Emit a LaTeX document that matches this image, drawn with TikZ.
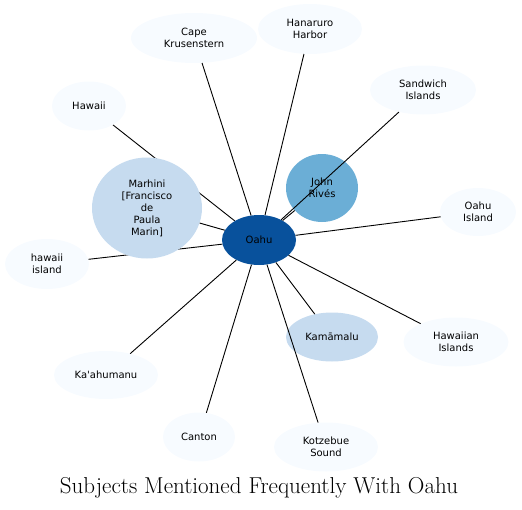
\documentclass[tikz,border=0pt]{standalone}
\usepackage{fontspec}
\newfontfamily\nodefont{DejaVu Sans}
\usetikzlibrary{shapes.geometric}
\pgfdeclarelayer{background}
\pgfsetlayers{background,main}
\definecolor{cdark}{HTML}{08519C}
\definecolor{cmid}{HTML}{6BAED6}
\definecolor{clight}{HTML}{C6DBEF}
\definecolor{cpale}{HTML}{F7FBFF}
\tikzset{
  ent/.style={ellipse, inner sep=0pt, align=center, font=\nodefont\fontsize{10}{12}\selectfont, text=black},
  pale/.style={ent, fill=cpale},
  lite/.style={ent, fill=clight},
  link/.style={draw=black, line width=0.9pt},
}
\begin{document}
\begin{tikzpicture}[x=1pt,y=-1pt]
\useasboundingbox (0,0) rectangle (522,509);
\node[ent, fill=cdark, minimum width=74pt, minimum height=50pt] (oahu) at (259,240) {Oahu};
\node[ent, fill=cmid, minimum width=72pt, minimum height=68pt] (john) at (322,188) {John\\Rivés};
\node[pale, minimum width=126pt, minimum height=50pt] (cape) at (194,38) {Cape\\Krusenstern};
\node[pale, minimum width=104pt, minimum height=50pt] (hana) at (310,29) {Hanaruro\\Harbor};
\node[pale, minimum width=106pt, minimum height=49pt] (sand) at (423,90) {Sandwich\\Islands};
\node[pale, minimum width=74pt, minimum height=49pt] (hawaii) at (89,106) {Hawaii};
\node[pale, minimum width=84pt, minimum height=50pt] (hisl) at (47,264) {hawaii\\island};
\node[pale, minimum width=76pt, minimum height=48pt] (oisl) at (478,212) {Oahu\\Island};
\node[pale, minimum width=105pt, minimum height=49pt] (hwi) at (456,342) {Hawaiian\\Islands};
\node[pale, minimum width=104pt, minimum height=48pt] (kaa) at (106,375) {Ka'ahumanu};
\node[pale, minimum width=72pt, minimum height=49pt] (canton) at (199,437) {Canton};
\node[pale, minimum width=104pt, minimum height=49pt] (kotz) at (326,447) {Kotzebue\\Sound};
\node[lite, minimum width=92pt, minimum height=49pt] (kama) at (332,337) {Kamāmalu};
\node[lite, minimum width=110pt, minimum height=101pt] (marh) at (147,208) {Marhini\\{[}Francisco\\de\\Paula\\Marin{]}};
\begin{pgfonlayer}{background}
\draw[link] (oahu) -- (hawaii);
\draw[link] (oahu) -- (hisl);
\end{pgfonlayer}
\draw[link] (oahu) -- (marh);
\draw[link] (oahu) -- (john);
\draw[link] (oahu) -- (sand);
\draw[link] (oahu) -- (cape);
\draw[link] (oahu) -- (hana);
\draw[link] (oahu) -- (oisl);
\draw[link] (oahu) -- (hwi);
\draw[link] (oahu) -- (kaa);
\draw[link] (oahu) -- (canton);
\draw[link] (oahu) -- (kotz);
\draw[link] (oahu) -- (kama);
\node[font=\fontsize{23}{27}\selectfont, inner sep=0pt] (title) at (259,488) {Subjects Mentioned Frequently With Oahu};
\end{tikzpicture}
\end{document}
